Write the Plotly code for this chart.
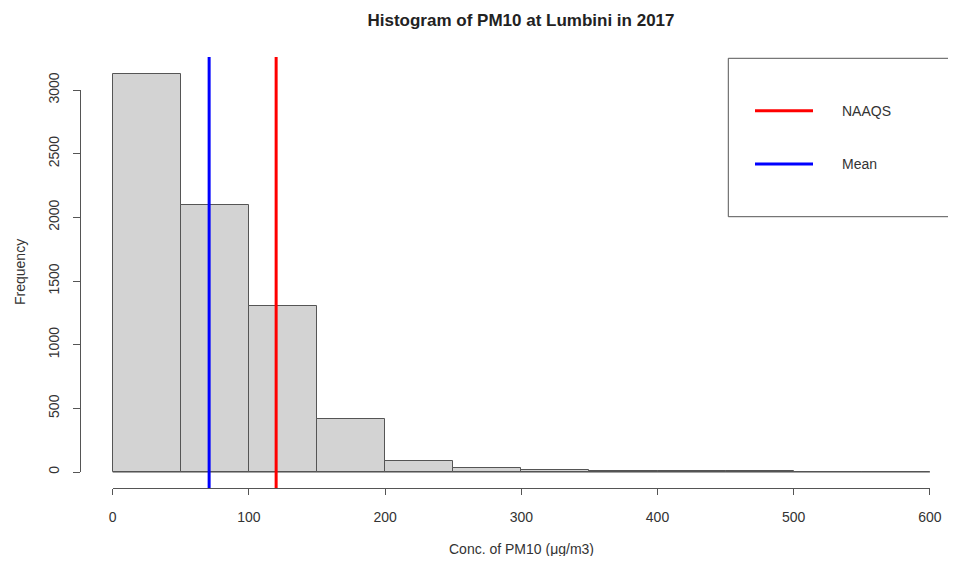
import plotly.graph_objects as go

# ---- data ----
bin_edges = [0, 50, 100, 150, 200, 250, 300, 350, 400, 450, 500, 550, 600]
counts = [3130, 2100, 1308, 418, 89, 31, 15, 10, 8, 6, 0, 0]
naaqs = 120
mean_val = 70.8
x_ticks = [0, 100, 200, 300, 400, 500, 600]
y_ticks = [0, 500, 1000, 1500, 2000, 2500, 3000]
title_text = "Histogram of PM10 at Lumbini in 2017"
x_title = "Conc. of PM10 (\u03bcg/m3)"
y_title = "Frequency"
legend_labels = ["NAAQS", "Mean"]
legend_colors = ["#FF0000", "#0000FF"]

# page body has an 8px margin on each side; positions below are screen pixels
OFF = 8
W, H = 956 - 2 * OFF, 564 - 2 * OFF
L, R, T = 80 - OFF, 0, 57 - OFF
B = H - (488 - OFF)
PW, PH = W - L - R, H - T - B

def px_x(p):
    return (p - OFF - L) / PW

def px_y(p):
    return (H - B - (p - OFF)) / PH

X0_PX, X_SCALE = 112.7, 1.362   # screen px of x=0, px per unit
x_lo = (80 - X0_PX) / X_SCALE
x_hi = (W + OFF - X0_PX) / X_SCALE

centers = [(a + b) / 2 for a, b in zip(bin_edges[:-1], bin_edges[1:])]
widths = [b - a for a, b in zip(bin_edges[:-1], bin_edges[1:])]

TXT = "#333333"
LINE = "#555555"
FONT = "Liberation Sans, Arial, sans-serif"

fig = go.Figure()
fig.add_trace(go.Bar(
    x=centers, y=counts, width=widths,
    marker=dict(color="#D3D3D3", line=dict(color=LINE, width=1)),
    showlegend=False, hoverinfo="x+y",
))
fig.add_trace(go.Scatter(
    x=[bin_edges[0], bin_edges[-1]], y=[0, 0], mode="lines",
    line=dict(color=LINE, width=1), showlegend=False, hoverinfo="skip",
))
# carrier for the R-style detached axes
fig.add_trace(go.Scatter(x=[], y=[], xaxis="x2", yaxis="y2", showlegend=False))

fig.add_vline(x=naaqs, line_color=legend_colors[0], line_width=3)
fig.add_vline(x=mean_val, line_color=legend_colors[1], line_width=3)

fig.update_layout(
    width=W, height=H,
    margin=dict(l=L, r=R, t=T, b=B, autoexpand=False),
    paper_bgcolor="white", plot_bgcolor="rgba(0,0,0,0)",
    font=dict(family=FONT, size=14, color=TXT),
    title=dict(text="<b>" + title_text + "</b>", x=px_x(521), xref="paper", xanchor="center",
               y=1 - (20 - OFF) / H, yref="container", yanchor="middle",
               font=dict(size=17, color="#222222")),
    xaxis=dict(range=[x_lo, x_hi], visible=False, fixedrange=True, automargin=False),
    yaxis=dict(range=[-125.4, 3260], visible=False, fixedrange=True, automargin=False),
    xaxis2=dict(domain=[px_x(X0_PX), px_x(X0_PX + 600 * X_SCALE)],
                range=[bin_edges[0], bin_edges[-1]],
                anchor="free", position=0, showline=True, linecolor=LINE, linewidth=1,
                ticks="outside", ticklen=6, tickcolor=LINE, tickvals=x_ticks,
                showgrid=False, zeroline=False, ticklabelstandoff=10, automargin=False,
                tickfont=dict(size=14, color=TXT), fixedrange=True),
    yaxis2=dict(domain=[px_y(472), px_y(90.07)], range=[y_ticks[0], y_ticks[-1]],
                anchor="free", position=0, showline=True, linecolor=LINE, linewidth=1,
                ticks="outside", ticklen=7, tickcolor=LINE, tickvals=y_ticks,
                showgrid=False, zeroline=False, tickangle=-90, ticklabelstandoff=8,
                automargin=False, tickfont=dict(size=14, color=TXT), fixedrange=True),
    bargap=0,
)

# axis titles
fig.add_annotation(text=x_title, x=px_x(521), y=px_y(549), xref="paper", yref="paper",
                   showarrow=False, xanchor="center", yanchor="middle",
                   font=dict(size=14, color=TXT))
fig.add_annotation(text=y_title, x=px_x(20), y=px_y(272), xref="paper", yref="paper",
                   showarrow=False, xanchor="center", yanchor="middle", textangle=-90,
                   font=dict(size=14, color=TXT))

# legend box (R-style, top-right, cropped at the right edge)
fig.add_shape(type="rect", xref="paper", yref="paper",
              x0=px_x(728.3), x1=px_x(975), y0=px_y(216.7), y1=px_y(58.3),
              line=dict(color=LINE, width=1), fillcolor="white", layer="above")
for lab, col, py in zip(legend_labels, legend_colors, [110.7, 164]):
    fig.add_shape(type="line", xref="paper", yref="paper",
                  x0=px_x(755), x1=px_x(813), y0=px_y(py), y1=px_y(py),
                  line=dict(color=col, width=3), layer="above")
    fig.add_annotation(text=lab, x=px_x(840), y=px_y(py), xref="paper", yref="paper",
                       showarrow=False, xanchor="left", yanchor="middle",
                       font=dict(size=14, color=TXT))

fig.write_html("out.html")
